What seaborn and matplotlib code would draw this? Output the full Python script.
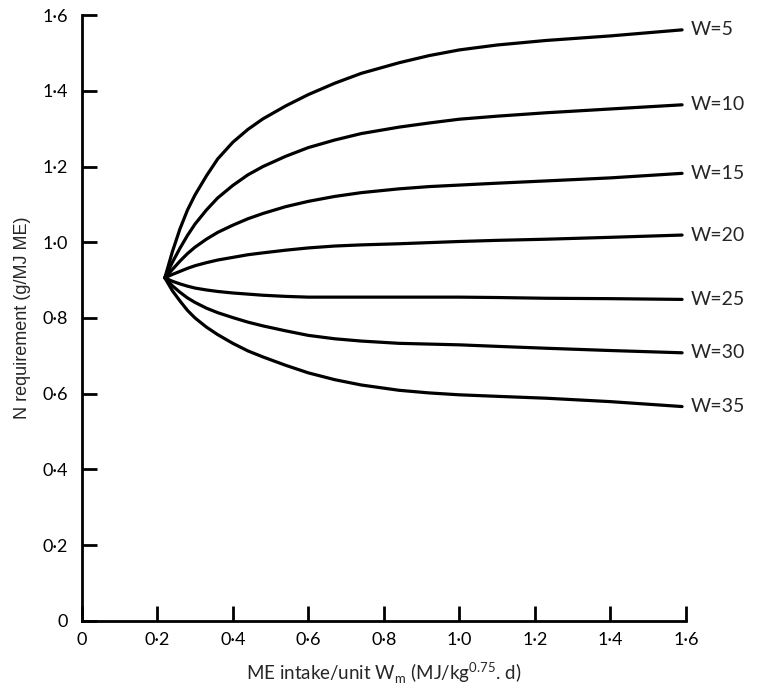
import pandas as pd
import matplotlib
matplotlib.use("Agg")
import matplotlib.pyplot as plt
import seaborn as sns

# ME intake per unit metabolic weight (MJ/kg^0.75.d)
me_intake = [0.22, 0.24, 0.26, 0.28, 0.30, 0.33, 0.36, 0.40, 0.44, 0.48, 0.54,
             0.60, 0.67, 0.74, 0.84, 0.92, 1.00, 1.10, 1.23, 1.40, 1.59]

# N requirement (g/MJ ME) for each W
w5 = [0.906, 0.975, 1.035, 1.085, 1.125, 1.175, 1.220, 1.264, 1.298, 1.326, 1.360,
      1.390, 1.420, 1.446, 1.474, 1.493, 1.508, 1.521, 1.533, 1.545, 1.561]
w10 = [0.906, 0.947, 0.984, 1.018, 1.048, 1.085, 1.117, 1.150, 1.178, 1.200, 1.227,
       1.250, 1.270, 1.287, 1.304, 1.315, 1.325, 1.333, 1.342, 1.352, 1.363]
w15 = [0.906, 0.928, 0.950, 0.970, 0.987, 1.008, 1.026, 1.045, 1.062, 1.076, 1.094,
       1.108, 1.121, 1.131, 1.141, 1.147, 1.151, 1.156, 1.162, 1.170, 1.182]
w20 = [0.906, 0.915, 0.923, 0.931, 0.938, 0.946, 0.953, 0.960, 0.967, 0.972, 0.979,
       0.985, 0.990, 0.993, 0.996, 0.999, 1.002, 1.005, 1.008, 1.013, 1.019]
w25 = [0.906, 0.897, 0.890, 0.884, 0.879, 0.874, 0.870, 0.866, 0.863, 0.860, 0.857,
       0.855, 0.855, 0.855, 0.855, 0.855, 0.855, 0.854, 0.852, 0.851, 0.849]
w30 = [0.906, 0.885, 0.868, 0.853, 0.841, 0.826, 0.814, 0.801, 0.789, 0.779, 0.766,
       0.754, 0.745, 0.739, 0.733, 0.731, 0.729, 0.725, 0.720, 0.714, 0.708]
w35 = [0.906, 0.872, 0.845, 0.820, 0.800, 0.776, 0.756, 0.733, 0.713, 0.697, 0.675,
       0.655, 0.637, 0.623, 0.609, 0.602, 0.597, 0.593, 0.588, 0.579, 0.566]

w_values = [5, 10, 15, 20, 25, 30, 35]
series = [w5, w10, w15, w20, w25, w30, w35]

tick_vals = [0, 0.2, 0.4, 0.6, 0.8, 1.0, 1.2, 1.4, 1.6]
tick_labels = ["0", "0·2", "0·4", "0·6", "0·8", "1·0", "1·2", "1·4", "1·6"]

# long-form table for seaborn
rows = []
for w, ys in zip(w_values, series):
    for x, y in zip(me_intake, ys):
        rows.append({"me": x, "n_req": y, "W": w})
df = pd.DataFrame(rows)

sns.set_style("white")
plt.rcParams["font.family"] = ["Lato", "DejaVu Sans"]

fig = plt.figure(figsize=(7.57, 6.86), dpi=100)
ax = fig.add_axes([0.108, 0.095, 0.798, 0.883])

sns.lineplot(data=df, x="me", y="n_req", hue="W", units="W", estimator=None,
             palette=["black"] * len(w_values), linewidth=2.3, legend=False, ax=ax)

# label each curve at its right end
for w, ys in zip(w_values, series):
    ax.text(me_intake[-1] + 0.022, ys[-1], f"W={w}", fontsize=14,
            va="center", ha="left", clip_on=False)

ax.set_xlim(0, 1.6)
ax.set_ylim(0, 1.6)
ax.set_xticks(tick_vals)
ax.set_xticklabels(tick_labels)
ax.set_yticks(tick_vals)
ax.set_yticklabels(tick_labels)
ax.tick_params(bottom=True, left=True, direction="in", length=11, width=2,
               labelsize=13, colors="black")
ax.tick_params(axis="x", pad=8)
ax.tick_params(axis="y", pad=10)

sns.despine(ax=ax)
for side in ["left", "bottom"]:
    ax.spines[side].set_linewidth(2)
    ax.spines[side].set_color("black")

ax.set_xlabel("ME intake/unit W$_\\mathregular{m}$ (MJ/kg$^\\mathregular{0.75}$. d)",
              fontsize=13.5, labelpad=9)
ax.set_ylabel("N requirement (g/MJ ME)", fontsize=13, family="Liberation Sans",
              labelpad=8)

fig.savefig("out.png", dpi=100)
